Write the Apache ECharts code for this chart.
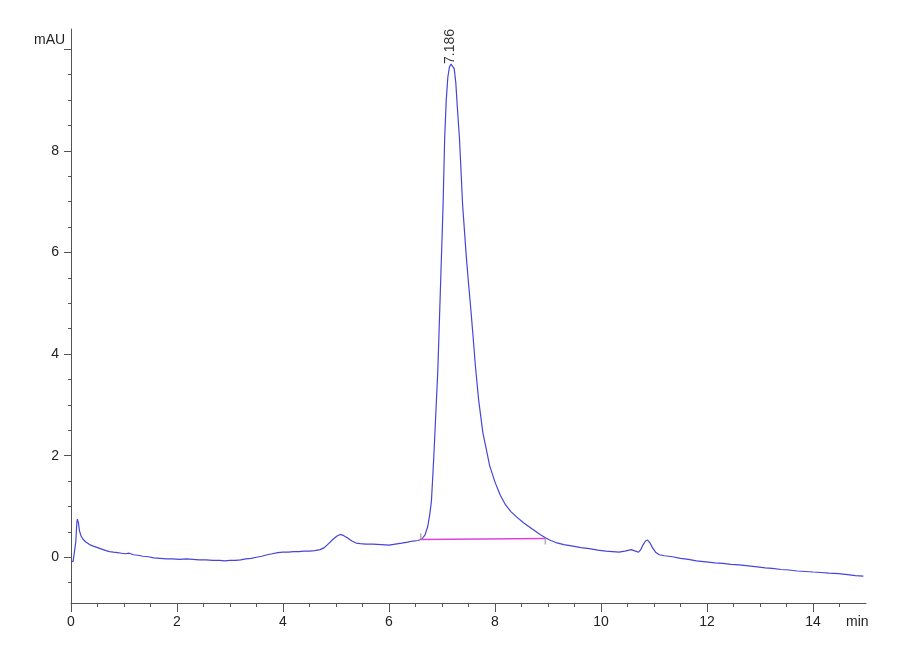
<!DOCTYPE html>
<html>
<head>
<meta charset="utf-8">
<script src="https://cdn.jsdelivr.net/npm/echarts@6/dist/echarts.min.js"></script>
<style>html,body{margin:0;padding:0;background:#fff;}#c{width:900px;height:660px;}</style>
</head>
<body>
<div id="c"></div>
<script>
var times = [0.00,0.04,0.07,0.09,0.11,0.12,0.14,0.16,0.19,0.23,0.28,0.35,0.42,0.50,0.58,0.66,0.73,0.80,0.88,0.95,1.02,1.10,1.18,1.26,1.36,1.46,1.56,1.68,1.80,1.92,2.05,2.18,2.30,2.42,2.55,2.68,2.80,2.90,3.00,3.10,3.20,3.30,3.40,3.50,3.60,3.70,3.80,3.90,4.00,4.10,4.20,4.30,4.40,4.50,4.60,4.70,4.78,4.86,4.94,5.02,5.08,5.14,5.22,5.30,5.38,5.46,5.56,5.70,5.85,6.00,6.12,6.24,6.35,6.45,6.55,6.62,6.68,6.73,6.77,6.80,6.83,6.86,6.89,6.92,6.94,6.96,6.98,7.00,7.02,7.05,7.08,7.11,7.14,7.17,7.20,7.23,7.26,7.29,7.33,7.39,7.46,7.50,7.53,7.58,7.63,7.69,7.77,7.90,8.00,8.10,8.20,8.30,8.40,8.55,8.71,8.85,8.96,9.05,9.15,9.30,9.47,9.62,9.78,9.94,10.09,10.22,10.34,10.45,10.57,10.65,10.71,10.75,10.79,10.84,10.88,10.92,10.97,11.03,11.10,11.20,11.35,11.50,11.65,11.80,11.98,12.15,12.30,12.45,12.61,12.78,12.95,13.10,13.23,13.40,13.55,13.70,13.86,14.00,14.15,14.30,14.49,14.65,14.80,14.95];
var signal = [-0.08,-0.08,-0.06,0.30,0.68,0.75,0.68,0.52,0.42,0.35,0.30,0.25,0.22,0.19,0.16,0.13,0.11,0.10,0.09,0.08,0.07,0.08,0.05,0.04,0.02,0.01,-0.01,-0.02,-0.03,-0.03,-0.04,-0.03,-0.04,-0.05,-0.05,-0.06,-0.06,-0.07,-0.06,-0.06,-0.05,-0.03,-0.02,0.00,0.02,0.05,0.07,0.09,0.10,0.10,0.11,0.11,0.12,0.12,0.13,0.15,0.19,0.27,0.35,0.42,0.45,0.43,0.38,0.32,0.28,0.27,0.26,0.26,0.25,0.24,0.26,0.28,0.30,0.32,0.33,0.36,0.44,0.60,0.85,1.10,1.67,2.30,2.98,3.65,4.30,4.95,5.61,6.25,6.92,8.24,9.00,9.45,9.65,9.71,9.70,9.62,9.35,8.85,8.24,6.92,5.90,5.40,5.05,4.43,3.77,3.11,2.46,1.80,1.48,1.22,1.03,0.90,0.80,0.67,0.55,0.45,0.38,0.33,0.29,0.25,0.22,0.19,0.17,0.14,0.12,0.11,0.10,0.12,0.15,0.12,0.10,0.15,0.24,0.32,0.34,0.29,0.19,0.10,0.05,0.03,0.01,-0.02,-0.04,-0.07,-0.09,-0.11,-0.12,-0.14,-0.15,-0.17,-0.19,-0.21,-0.22,-0.24,-0.25,-0.27,-0.28,-0.29,-0.30,-0.31,-0.32,-0.34,-0.36,-0.37];
var baselineStart = [6.60, 0.35];
var baselineEnd = [8.95, 0.37];
var peakTime = 7.186;
var peakHeight = 9.71;
var peakLabel = '7.186';
var xMajorTicks = [0,2,4,6,8,10,12,14];
var xMinorTicks = [0,0.5,1,1.5,2,2.5,3,3.5,4,4.5,5,5.5,6,6.5,7,7.5,8,8.5,9,9.5,10,10.5,11,11.5,12,12.5,13,13.5,14,14.5];
var yMajorTicks = [0,2,4,6,8,10];
var yLabelTicks = [0,2,4,6,8];
var yMinorTicks = [-0.5,0,0.5,1,1.5,2,2.5,3,3.5,4,4.5,5,5.5,6,6.5,7,7.5,8,8.5,9,9.5,10];

var data = times.map(function(t, i){ return [t, signal[i]]; });
var axisColor = '#555';
var font = 'Liberation Sans, Arial, sans-serif';

var chart = echarts.init(document.getElementById('c'), null, {renderer: 'canvas'});
chart.setOption({
  animation: false,
  backgroundColor: '#fff',
  grid: {left: 71, right: 34, top: 29, bottom: 57},
  xAxis: [{
    type: 'value', min: 0, max: 15,
    axisLine: {show: true, onZero: false, lineStyle: {color: axisColor, width: 1}},
    axisTick: {show: true, customValues: xMajorTicks, length: 9, lineStyle: {color: axisColor}},
    axisLabel: {customValues: xMajorTicks, color: '#222', fontSize: 14, fontFamily: font, margin: 12},
    splitLine: {show: false}
  }, {
    type: 'value', min: 0, max: 15, position: 'bottom',
    axisLine: {show: false, onZero: false},
    axisTick: {show: true, customValues: xMinorTicks, length: 4, lineStyle: {color: axisColor}},
    axisLabel: {show: false},
    splitLine: {show: false}
  }],
  yAxis: [{
    type: 'value', min: -0.9, max: 10.4,
    axisLine: {show: true, onZero: false, lineStyle: {color: axisColor, width: 1}},
    axisTick: {show: true, customValues: yMajorTicks, length: 7, lineStyle: {color: axisColor}},
    axisLabel: {customValues: yLabelTicks, color: '#222', fontSize: 14, fontFamily: font, margin: 12},
    splitLine: {show: false}
  }, {
    type: 'value', min: -0.9, max: 10.4, position: 'left',
    axisLine: {show: false, onZero: false},
    axisTick: {show: true, customValues: yMinorTicks, length: 3, lineStyle: {color: axisColor}},
    axisLabel: {show: false},
    splitLine: {show: false}
  }],
  graphic: [
    {type: 'text', left: 34, top: 33, style: {text: 'mAU', fontSize: 14, fontFamily: font, fill: '#222'}},
    {type: 'text', left: 846, top: 615, style: {text: 'min', fontSize: 14, fontFamily: font, fill: '#222'}}
  ],
  series: [{
    type: 'line', data: data, showSymbol: false, symbol: 'none',
    lineStyle: {color: '#4545d8', width: 1.2}, z: 3
  }, {
    type: 'line', data: [baselineStart, baselineEnd], showSymbol: false, symbol: 'none',
    lineStyle: {color: '#e040e0', width: 1.5}, z: 4
  }, {
    type: 'scatter', data: [baselineStart], symbol: 'rect', symbolSize: [1.5, 6], symbolOffset: [0, -3],
    itemStyle: {color: '#999'}, z: 5
  }, {
    type: 'scatter', data: [baselineEnd], symbol: 'rect', symbolSize: [1.5, 6], symbolOffset: [0, 3],
    itemStyle: {color: '#999'}, z: 5
  }, {
    type: 'scatter', data: [[peakTime, peakHeight]], symbolSize: 0,
    label: {show: true, formatter: peakLabel, position: [0, 0], rotate: 90, align: 'left', verticalAlign: 'middle',
      offset: [0, -2], fontSize: 14, fontFamily: font, color: '#000'}, z: 6
  }]
});
</script>
</body>
</html>
